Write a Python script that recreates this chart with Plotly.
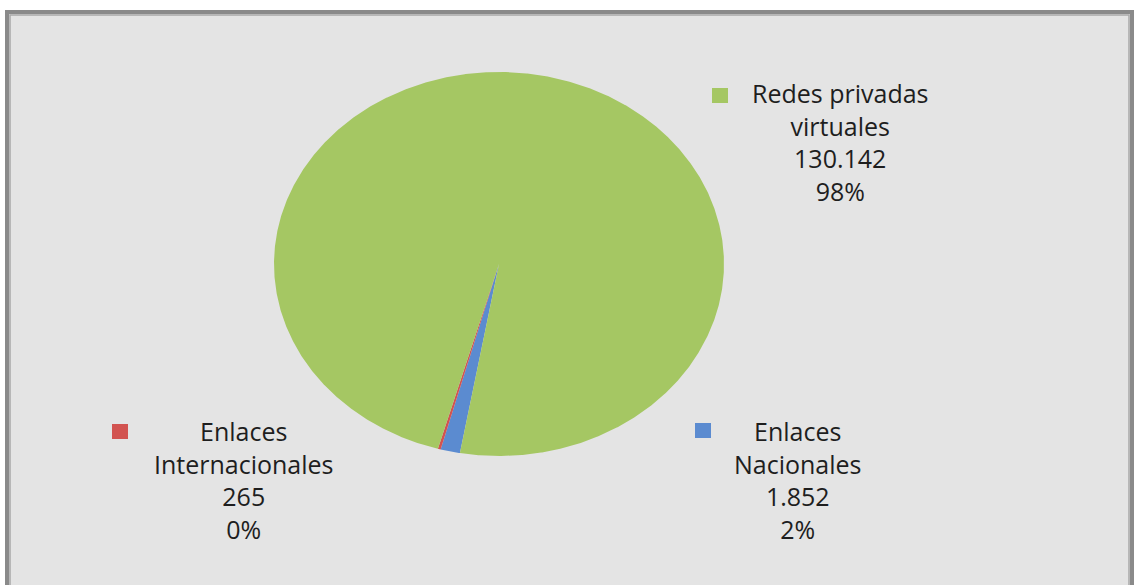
import numpy as np
import plotly.graph_objects as go

# ---- data ----
categories = ["Enlaces Nacionales", "Enlaces Internacionales", "Redes privadas virtuales"]
values = [1852, 265, 130142]
value_labels = ["1.852", "265", "130.142"]
pct_labels = ["2%", "0%", "98%"]
label_lines = ["Enlaces<br>Nacionales", "Enlaces<br>Internacionales", "Redes privadas<br>virtuales"]
colors = ["#5b8bd0", "#d25350", "#a5c763"]

W, H = 1134, 585
# ellipse geometry (pixels)
cx, cy, rx, ry = 499, 264, 225, 192
start_deg = 190.0  # clockwise from 12 o'clock

fig = go.Figure()

total = float(sum(values))
ang = start_deg
for cat, v, col in zip(categories, values, colors):
    span = v / total * 360.0
    n = max(int(span * 4), 4)
    th = np.radians(np.linspace(ang, ang + span, n))
    xs = np.concatenate([[0.0], np.sin(th), [0.0]])
    ys = np.concatenate([[0.0], np.cos(th), [0.0]])
    fig.add_trace(go.Scatter(x=xs, y=ys, fill="toself", fillcolor=col, mode="lines",
                             line=dict(width=0, color=col), name=cat, hoverinfo="name",
                             showlegend=False))
    ang += span

def px(x):
    return x / W

def py(y):
    return 1 - y / H

font = dict(family="Open Sans, sans-serif", size=25, color="#1e1e1e")

# label blocks: (index, text center x, block middle y, square x0,y0)
blocks = [
    (2, 840, 142, 712, 88),
    (1, 244, 480, 112, 424),
    (0, 798, 480, 695, 423),
]
annotations = []
shapes = [
    dict(type="rect", xref="paper", yref="paper", x0=px(7), x1=px(1132), y0=-0.02, y1=py(12),
         fillcolor="#e4e4e4", line=dict(color="#8a8a8a", width=4), layer="below"),
    dict(type="rect", xref="paper", yref="paper", x0=px(10), x1=px(1129), y0=-0.02, y1=py(15),
         fillcolor="rgba(0,0,0,0)", line=dict(color="#a8a8a8", width=1.5), layer="below"),
]
for i, tx, ty, sx, sy in blocks:
    annotations.append(dict(x=px(tx), y=py(ty), xref="paper", yref="paper",
                            text=f"{label_lines[i]}<br>{value_labels[i]}<br>{pct_labels[i]}",
                            showarrow=False, xanchor="center", yanchor="middle",
                            align="center", font=font))
    shapes.append(dict(type="rect", xref="paper", yref="paper", x0=px(sx), x1=px(sx + 16),
                       y0=py(sy + 15), y1=py(sy), fillcolor=colors[i], line=dict(width=0)))

fig.update_layout(
    width=W, height=H,
    margin=dict(l=0, r=0, t=0, b=0),
    paper_bgcolor="white",
    plot_bgcolor="rgba(0,0,0,0)",
    xaxis=dict(range=[-cx / rx, (W - cx) / rx], visible=False, fixedrange=True),
    yaxis=dict(range=[-(H - cy) / ry, cy / ry], visible=False, fixedrange=True),
    annotations=annotations,
    shapes=shapes,
    showlegend=False,
)

fig.write_html("out.html", config={"displayModeBar": False},
               post_script="document.body.style.margin='0';document.body.style.overflow='hidden';")
